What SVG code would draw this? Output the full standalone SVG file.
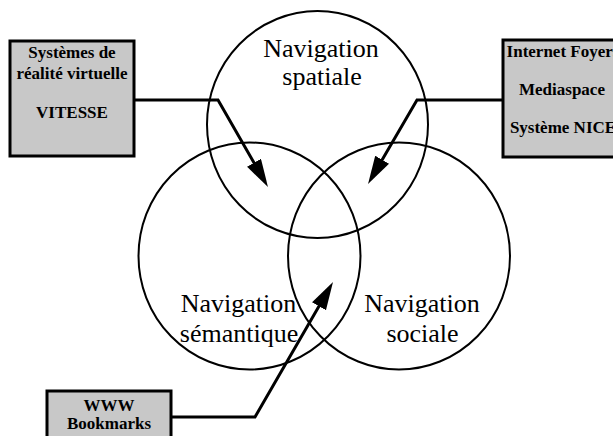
<svg xmlns="http://www.w3.org/2000/svg" width="613" height="436" viewBox="0 0 613 436">
<style>
.circle{fill:none;stroke:#000;stroke-width:2}
.box{fill:#c8c8c8;stroke:#000;stroke-width:3}
.bt{font-family:"Liberation Serif","Times New Roman",serif;font-weight:bold;font-size:17px;fill:#000;text-anchor:middle}
.nt{font-family:"Liberation Serif","Times New Roman",serif;font-size:26px;fill:#000;text-anchor:middle}
.arrow{fill:none;stroke:#000;stroke-width:3;stroke-linejoin:miter}
</style>
<defs>
<marker id="ah" markerUnits="userSpaceOnUse" markerWidth="30" markerHeight="18" refX="10" refY="8" orient="auto">
<path d="M0,0 L28,8 L0,16 z" fill="#000"/>
</marker>
</defs>
<rect width="613" height="436" fill="#fff"/>
<g id="spatiale">
<ellipse class="circle" cx="317.5" cy="124.5" rx="110.5" ry="113.5"/>
<text class="nt" x="321" y="57">Navigation</text>
<text class="nt" x="322" y="85">spatiale</text>
</g>
<g id="semantique">
<ellipse class="circle" cx="249.5" cy="256" rx="111" ry="113.5"/>
<text class="nt" x="238.5" y="312">Navigation</text>
<text class="nt" x="239" y="342">sémantique</text>
</g>
<g id="sociale">
<ellipse class="circle" cx="399" cy="256" rx="111" ry="113.5"/>
<text class="nt" x="422" y="312">Navigation</text>
<text class="nt" x="422.5" y="342">sociale</text>
</g>
<g id="vitesse">
<rect class="box" x="10" y="41" width="124" height="115"/>
<text class="bt" x="72" y="58">Systèmes de</text>
<text class="bt" x="72" y="79">réalité virtuelle</text>
<text class="bt" x="72" y="118">VITESSE</text>
</g>
<g id="foyers">
<rect class="box" x="503" y="40" width="124" height="117"/>
<text class="bt" x="563" y="57">Internet Foyers</text>
<text class="bt" x="562" y="95">Mediaspace</text>
<text class="bt" x="563" y="133">Système NICE</text>
</g>
<g id="bookmarks">
<rect class="box" x="47" y="391" width="124" height="60"/>
<text class="bt" x="109" y="411">WWW</text>
<text class="bt" x="109" y="429">Bookmarks</text>
</g>
<g id="connectors">
<polyline class="arrow" points="134,100 218,100 259,171.4" marker-end="url(#ah)"/>
<polyline class="arrow" points="503,100 417,100 377.1,168.4" marker-end="url(#ah)"/>
<polyline class="arrow" points="171,417 255,417 324,297.6" marker-end="url(#ah)"/>
</g>
</svg>
